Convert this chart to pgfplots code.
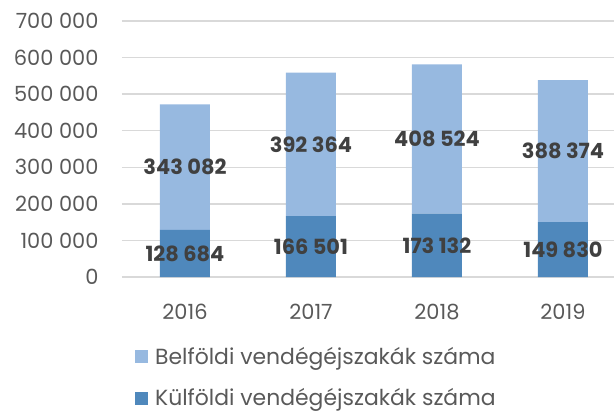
\documentclass[border=0pt]{standalone}
\usepackage{pgfplots}
\pgfplotsset{compat=1.18}
\usepackage{pgfplotstable}
\usepackage{fontspec}
\setmainfont{Poppins}
\usetikzlibrary{calc}
\definecolor{light}{HTML}{97B9E0}
\definecolor{dark}{HTML}{4F88BC}
\definecolor{txt}{HTML}{595959}
\definecolor{lbl}{HTML}{404040}
\definecolor{grd}{HTML}{D9D9D9}
\pgfplotstableread{
x kulf belf
0 128684 343082
1 166501 392364
2 173132 408524
3 149830 388374
}\data
\pgfplotsset{
  common/.style={
    scale only axis, width=492bp, height=256bp,
    at={(0,0)}, anchor=south west,
    xmin=-0.5, xmax=3.405, ymin=0, ymax=700000,
    /pgf/number format/.cd, assume math mode=true, fixed, precision=0, 1000 sep={~}, /pgfplots/.cd,
  }
}
\begin{document}
\begin{tikzpicture}
\begin{axis}[common, name=ax,
  ybar stacked, bar width=50bp,
  axis line style={draw=none},
  major tick length=0pt,
  ytick={0,100000,...,700000},
  xtick={0,1,2,3}, xticklabels={2016,2017,2018,2019},
  ymajorgrids, grid style={grd, line width=1.3bp},
  scaled y ticks=false,
  yticklabel style={font=\fontsize{21}{24}\selectfont, text=txt, xshift=-20bp},
  xticklabel style={font=\fontsize{21}{24}\selectfont, text=txt, yshift=-24bp},
  reverse legend,
  legend style={at={(axis description cs:0,0)}, anchor=north west, xshift=13bp, yshift=-68bp,
    draw=none, fill=none, font=\fontsize{22}{25}\selectfont\color{txt}, row sep=19bp,
    inner sep=0pt,
    legend cell align=left, /tikz/every odd column/.append style={column sep=5bp}},
  legend image code/.code={\fill[#1] (0bp,-6.5bp) rectangle (13bp,6.5bp);},
]
\addplot[fill=dark, draw=none] table[x=x, y=kulf] {\data};
\addlegendentry{Külföldi vendégéjszakák száma}
\addplot[fill=light, draw=none] table[x=x, y=belf] {\data};
\addlegendentry{Belföldi vendégéjszakák száma}
\end{axis}
\begin{axis}[common, hide axis,
  nodes near coords, point meta=explicit,
  nodes near coords style={anchor=center, font=\fontsize{21}{24}\selectfont\bfseries, text=lbl},
]
\addplot[draw=none, mark=none] table[x=x, y expr=\thisrow{kulf}/2, meta=kulf] {\data};
\addplot[draw=none, mark=none] table[x=x, y expr=\thisrow{kulf}+\thisrow{belf}/2, meta=belf] {\data};
\end{axis}
\pgfresetboundingbox
\path[use as bounding box] ($(ax.south west)+(-122bp,-142bp)$) rectangle ($(ax.north east)+(0,21bp)$);
\end{tikzpicture}
\end{document}
